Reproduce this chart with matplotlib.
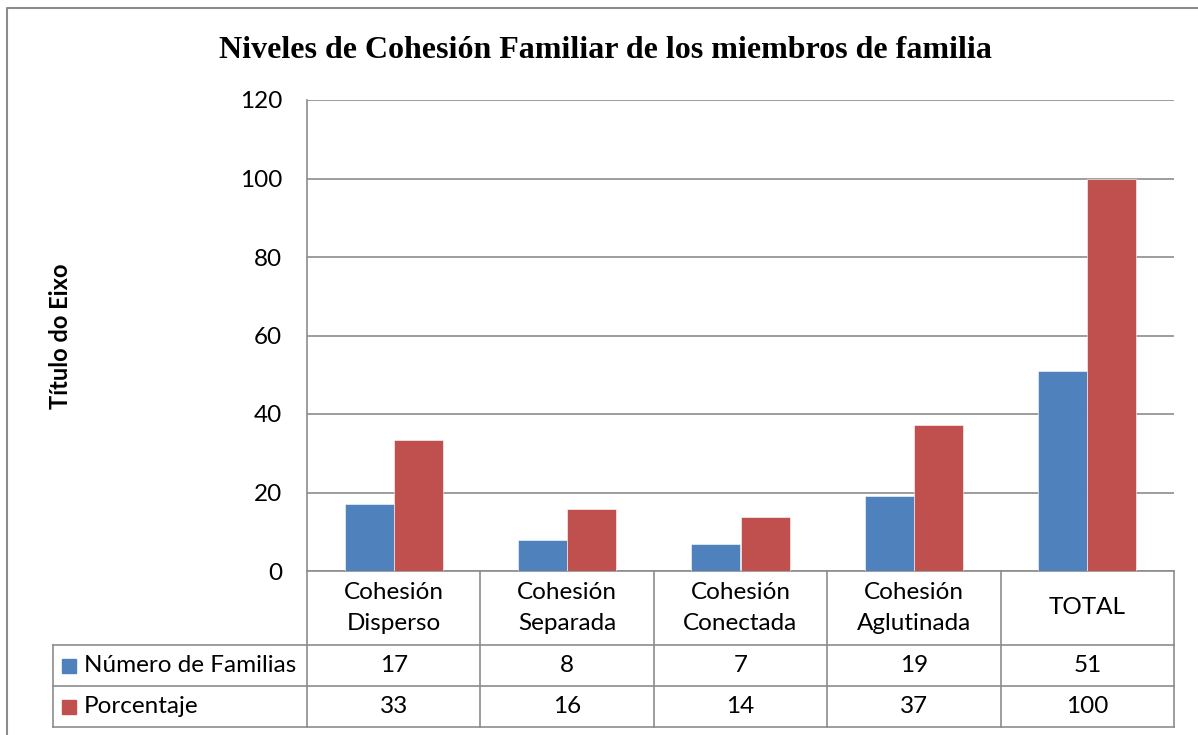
import numpy as np
import matplotlib.pyplot as plt
from matplotlib.lines import Line2D
from matplotlib.patches import Rectangle

# data
categories = ["Cohesión\nDisperso", "Cohesión\nSeparada", "Cohesión\nConectada",
              "Cohesión\nAglutinada", "TOTAL"]
series_names = ["Número de Familias", "Porcentaje"]
familias = [17, 8, 7, 19, 51]
porcentaje = [33.33, 15.69, 13.73, 37.25, 100]
familias_txt = ["17", "8", "7", "19", "51"]
porcentaje_txt = ["33", "16", "14", "37", "100"]

blue = "#4F81BD"
red = "#C0504D"
grey = "#8C8C8C"
font = "Lato"
fs = 17.5

W, H = 1198, 735
fig = plt.figure(figsize=(W / 100, H / 100), dpi=100)

def fx(px):
    return px / W

def fy(py):
    return 1 - py / H

# axes in pixel layout
ax_l, ax_r, ax_t, ax_b = 307, 1174, 100, 571
ax = fig.add_axes([fx(ax_l), fy(ax_b), fx(ax_r - ax_l), (ax_b - ax_t) / H])

x = np.arange(len(categories))
bw = 0.283
ax.bar(x - bw / 2, familias, bw, color=blue, edgecolor="white", linewidth=0.4, zorder=3)
ax.bar(x + bw / 2, porcentaje, bw, color=red, edgecolor="white", linewidth=0.4, zorder=3)

ax.set_xlim(-0.5, len(categories) - 0.5)
ax.set_ylim(0, 120)
ax.set_yticks(range(0, 121, 20))
ax.yaxis.grid(True, color=grey, linewidth=1.2, zorder=0)
ax.set_xticks([])
ax.tick_params(axis="y", length=0, pad=18, labelsize=fs)
for lab in ax.get_yticklabels():
    lab.set_fontfamily(font)
for s in ["top", "right"]:
    ax.spines[s].set_visible(False)
for s in ["left", "bottom"]:
    ax.spines[s].set_color(grey)
    ax.spines[s].set_linewidth(1.2)

# title and axis label
fig.text(fx(605), fy(51), "Niveles de Cohesión Familiar de los miembros de familia",
         ha="center", va="center", fontsize=23, fontweight="bold",
         fontfamily="Liberation Serif")
fig.text(fx(60), fy(336), "Título do Eixo", rotation=90, ha="center", va="center",
         fontsize=17, fontweight="bold", fontfamily=font)

# data table
row_h = [571, 645, 686, 727]
leg_l = 53
col_w = (ax_r - ax_l) / len(categories)
lw = 1.2

def hline(y, x0, x1):
    fig.add_artist(Line2D([fx(x0), fx(x1)], [fy(y), fy(y)], color=grey, lw=lw))

def vline(xp, y0, y1):
    fig.add_artist(Line2D([fx(xp), fx(xp)], [fy(y0), fy(y1)], color=grey, lw=lw))

hline(row_h[1], leg_l, ax_r)
hline(row_h[2], leg_l, ax_r)
hline(row_h[3], leg_l, ax_r)
vline(leg_l, row_h[1], row_h[3])
for i in range(len(categories) + 1):
    vline(ax_l + i * col_w, row_h[0], row_h[3])

for i, c in enumerate(categories):
    cx = ax_l + (i + 0.5) * col_w
    fig.text(fx(cx), fy((row_h[0] + row_h[1]) / 2), c, ha="center", va="center",
             fontsize=fs, fontfamily=font, linespacing=1.55)
    fig.text(fx(cx), fy((row_h[1] + row_h[2]) / 2), familias_txt[i], ha="center",
             va="center", fontsize=fs, fontfamily=font)
    fig.text(fx(cx), fy((row_h[2] + row_h[3]) / 2), porcentaje_txt[i], ha="center",
             va="center", fontsize=fs, fontfamily=font)

for r, (name, col) in enumerate(zip(series_names, [blue, red])):
    yc = (row_h[r + 1] + row_h[r + 2]) / 2
    fig.add_artist(Rectangle((fx(62), fy(yc + 7)), 14 / W, 14 / H, color=col,
                             transform=fig.transFigure))
    fig.text(fx(84), fy(yc), name, ha="left", va="center", fontsize=fs,
             fontfamily=font)

# outer chart border
fig.add_artist(Line2D([fx(7), fx(7), fx(W)], [0, fy(8), fy(8)], color=grey, lw=1.5))

fig.savefig("out.png", dpi=100)
